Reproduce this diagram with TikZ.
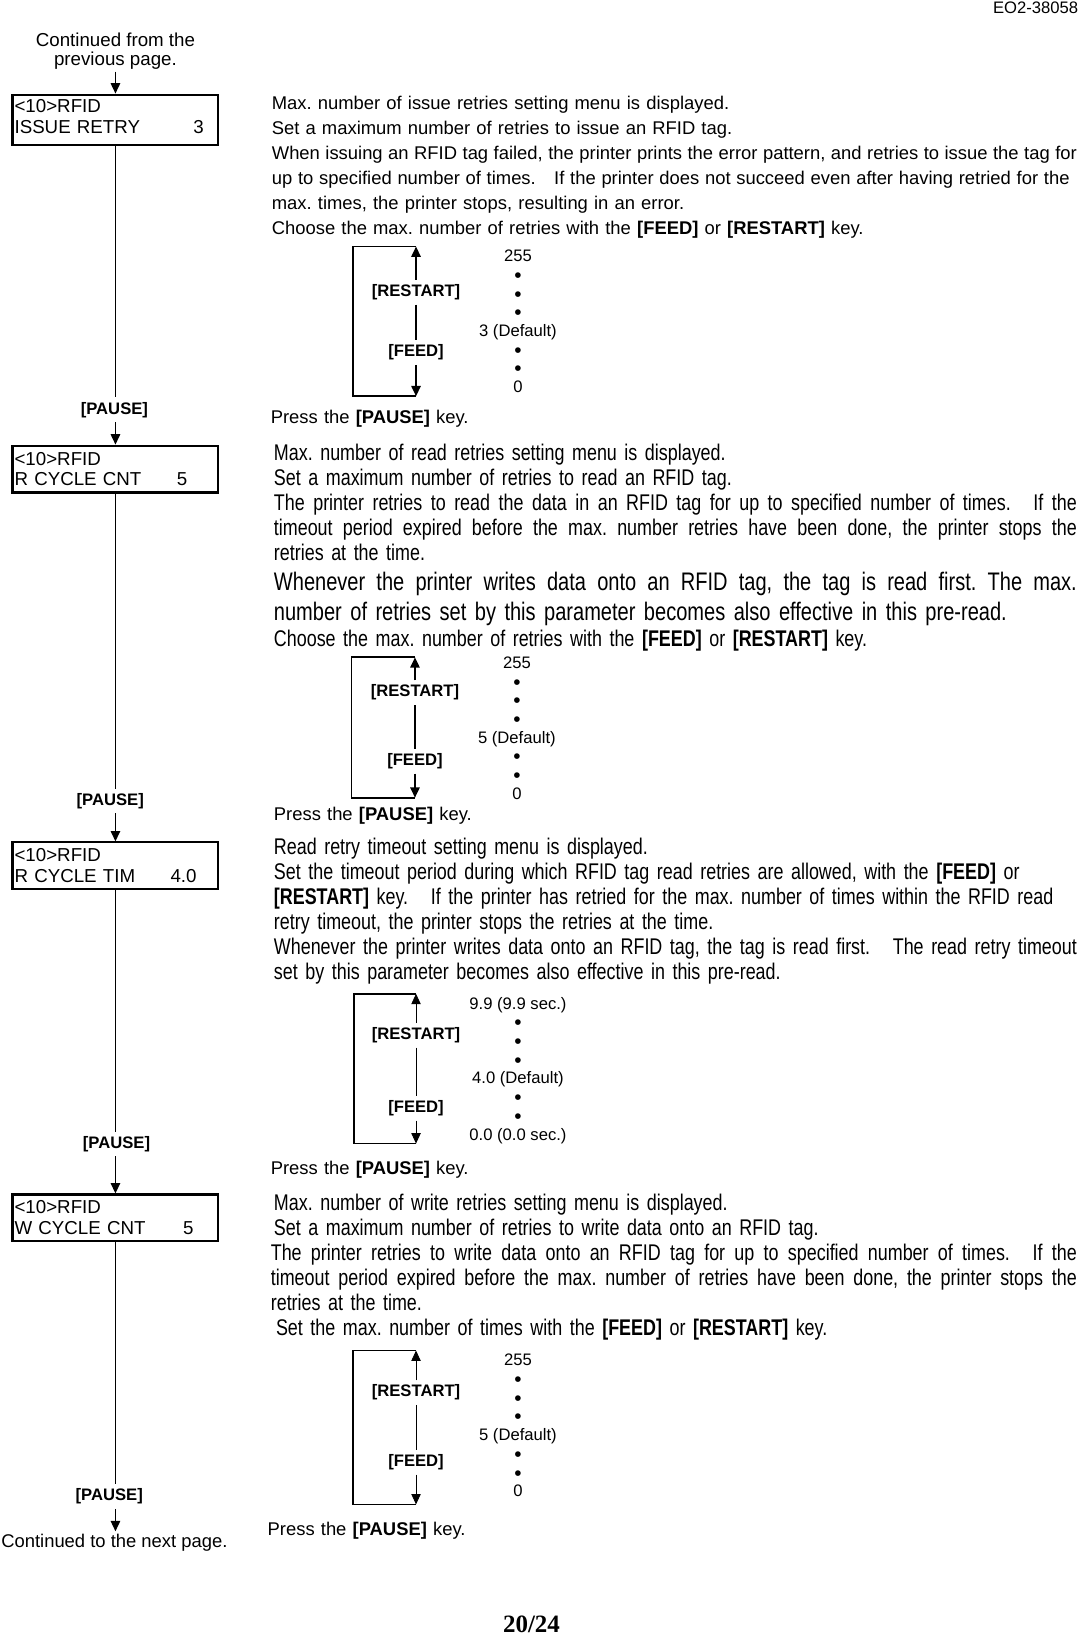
\documentclass[tikz,border=0pt]{standalone}
\usepackage{fontspec}
\setmainfont{Liberation Sans}
\newfontfamily\narrowfont{Liberation Sans}[FakeStretch=0.79]
\newfontfamily\pagefont{Liberation Serif}
\usetikzlibrary{arrows.meta,positioning}
\frenchspacing

% justified line of fixed width
\newcommand{\jl}[2][386pt]{\leavevmode\hbox to #1{\spaceskip=\fontdimen2\font plus 1fil minus 0.15em\relax #2}}
\newcommand{\bodysize}{\fontsize{8.85}{12}\selectfont}
\newcommand{\narrowsize}{\narrowfont\fontsize{10.9}{12}\selectfont}
\newcommand{\bigsize}{\narrowfont\fontsize{12.2}{14.5}\selectfont}
\newcommand{\dotmark}{\raisebox{-1pt}{\fontsize{10}{9}\selectfont\textbullet}}

\begin{document}
\begin{tikzpicture}
[x=0.5pt, y=-0.5pt, >={Triangle[length=5pt,width=4.5pt]},
% STYLES
% The lcd style is used to draw the display boxes
lcd/.style={draw, line width=1pt, text width=97pt, inner xsep=1pt, inner ysep=0pt, minimum height=22.5pt, align=left, font=\fontsize{9}{10}\selectfont},
% The desc style is used for the explanations on the right
desc/.style={anchor=base west, inner sep=0pt, text width=400pt, align=left, font=\bodysize},
narrow/.style={desc, font=\narrowsize},
big/.style={desc, font=\bigsize},
% key names and value lists
keylabel/.style={inner sep=2pt, font=\fontsize{8}{9}\selectfont\bfseries},
values/.style={align=center, inner sep=0pt, font=\fontsize{8}{9}\selectfont},
flow/.style={line width=0.8pt},
keyline/.style={line width=0.9pt},
keybracket/.style={line width=0.9pt}]

\path[use as bounding box] (0,0) rectangle (1040,1573);

% Draw page texts
\node [anchor=east, inner sep=0pt, font=\fontsize{8}{9}\selectfont] (docno) at (1037,7) {EO2-38058};
\node [inner sep=0pt, font=\pagefont\fontsize{12}{12}\selectfont\bfseries] (pageno) at (511,1562) {20/24};

% Draw the displays
\node [align=center, inner sep=1pt, font=\fontsize{9}{9}\selectfont] (fromprev) at (111,49) {Continued from the\\previous page.};
\node [lcd, minimum height=24pt] (issue) at (111,115) {<10>RFID\\\makebox[86pt][l]{ISSUE RETRY}3\rule[-3pt]{0pt}{3pt}};
\node [lcd] (rcnt) at (111,451) {<10>RFID\\\makebox[78pt][l]{R CYCLE CNT}5};
\node [lcd] (rtim) at (111,832.5) {<10>RFID\\\makebox[75pt][l]{R CYCLE TIM}4.0};
\node [lcd] (wcnt) at (111,1171) {<10>RFID\\\makebox[81pt][l]{W CYCLE CNT}5};
\node [inner sep=1pt, font=\bodysize] (tonext) at (110,1483) {Continued to the next page.};

\node [keylabel] (pause1) at (110,394) {[PAUSE]};
\node [keylabel] (pause2) at (106,770) {[PAUSE]};
\node [keylabel] (pause3) at (112,1100) {[PAUSE]};
\node [keylabel] (pause4) at (105,1439) {[PAUSE]};

% Draw the links between displays
\draw[flow,->] (fromprev.south -| issue.north) -- (issue.north);
\draw[flow] (issue.south) -- (issue.south |- pause1.north);
\draw[flow,->] (issue.south |- pause1.south) -- (rcnt.north);
\draw[flow] (rcnt.south) -- (rcnt.south |- pause2.north);
\draw[flow,->] (rcnt.south |- pause2.south) -- (rtim.north);
\draw[flow] (rtim.south) -- (rtim.south |- pause3.north);
\draw[flow,->] (rtim.south |- pause3.south) -- (wcnt.north);
\draw[flow] (wcnt.south) -- (wcnt.south |- pause4.north);
\draw[flow,->] (wcnt.south |- pause4.south) -- (wcnt.south |- tonext.north);

%%%%%%%%%%%%%%%
% ISSUE RETRY
\node [desc] (issuetext) at (261,105.5) {Max. number of issue retries setting menu is displayed.\\
Set a maximum number of retries to issue an RFID tag.\\
\jl[387pt]{When issuing an RFID tag failed, the printer prints the error pattern, and retries to issue the tag for}\\
\jl[383.5pt]{up to specified number of times.\quad If the printer does not succeed even after having retried for the}\\
max. times, the printer stops, resulting in an error.\\
Choose the max. number of retries with the \textbf{[FEED]} or \textbf{[RESTART]} key.};

\coordinate (top1) at (400,237);
\coordinate (bot1) at (400,381);
\node [keylabel] (restart1) at (400,281) {[RESTART]};
\node [keylabel] (feed1) at (400,339) {[FEED]};
\draw[keyline,->] (restart1.north) -- (top1);
\draw[keyline] (restart1.south) -- (feed1.north);
\draw[keyline,->] (feed1.south) -- (bot1);
\draw[keybracket] (top1) -- ++(-61,0) |- (bot1);
\node [values] (range1) at (498,309) {255\\\dotmark\\\dotmark\\\dotmark\\3 (Default)\\\dotmark\\\dotmark\\0};

\node [desc] (press1) at (260,407) {Press the \textbf{[PAUSE]} key.};

% R CYCLE CNT
\node [narrow] (rcnttext) at (263,443) {Max. number of read retries setting menu is displayed.\\
Set a maximum number of retries to read an RFID tag.\\
\jl{The printer retries to read the data in an RFID tag for up to specified number of times.\quad If the}\\
\jl{timeout period expired before the max. number retries have been done, the printer stops the}\\
retries at the time.};
\node [big] (rcntnote) at (263,567.5) {\jl{Whenever the printer writes data onto an RFID tag, the tag is read first. The max.}\\
number of retries set by this parameter becomes also effective in this pre-read.};
\node [narrow] (rcntkey) at (263,622) {Choose the max. number of retries with the \textbf{[FEED]} or \textbf{[RESTART]} key.};

\coordinate (top2) at (399,632);
\coordinate (bot2) at (399,767);
\node [keylabel] (restart2) at (399,666) {[RESTART]};
\node [keylabel] (feed2) at (399,732) {[FEED]};
\draw[keyline,->] (restart2.north) -- (top2);
\draw[keyline] (restart2.south) -- (feed2.north);
\draw[keyline,->] (feed2.south) -- (bot2);
\draw[keybracket] (top2) -- ++(-61,0) |- (bot2);
\node [values] (range2) at (497,700) {255\\\dotmark\\\dotmark\\\dotmark\\5 (Default)\\\dotmark\\\dotmark\\0};

\node [desc] (press2) at (263,789) {Press the \textbf{[PAUSE]} key.};

% R CYCLE TIM
\node [narrow] (rtimtext) at (263,822) {Read retry timeout setting menu is displayed.\\
Set the timeout period during which RFID tag read retries are allowed, with the \textbf{[FEED]} or\\
\textbf{[RESTART]} key.\quad If the printer has retried for the max. number of times within the RFID read\\
retry timeout, the printer stops the retries at the time.\\
\jl{Whenever the printer writes data onto an RFID tag, the tag is read first.\quad The read retry timeout}\\
set by this parameter becomes also effective in this pre-read.};

\coordinate (top3) at (400,955.5);
\coordinate (bot3) at (400,1099.5);
\node [keylabel] (restart3) at (400,995.5) {[RESTART]};
\node [keylabel] (feed3) at (400,1065.5) {[FEED]};
\draw[->] (restart3.north) -- (top3);
\draw (restart3.south) -- (feed3.north);
\draw[->] (feed3.south) -- (bot3);
\draw[keybracket] (top3) -- ++(-60,0) |- (bot3);
\node [values] (range3) at (498,1029) {9.9 (9.9 sec.)\\\dotmark\\\dotmark\\\dotmark\\4.0 (Default)\\\dotmark\\\dotmark\\0.0 (0.0 sec.)};

\node [desc] (press3) at (260,1129) {Press the \textbf{[PAUSE]} key.};

% W CYCLE CNT
\node [narrow] (wcnttext) at (263,1164) {Max. number of write retries setting menu is displayed.\\
Set a maximum number of retries to write data onto an RFID tag.};
\node [narrow] (wcntnote) at (260,1212) {\jl[387.5pt]{The printer retries to write data onto an RFID tag for up to specified number of times.\quad If the}\\
\jl[387.5pt]{timeout period expired before the max. number of retries have been done, the printer stops the}\\
retries at the time.};
\node [narrow] (wcntkey) at (265,1284) {Set the max. number of times with the \textbf{[FEED]} or \textbf{[RESTART]} key.};

\coordinate (top4) at (400,1298.5);
\coordinate (bot4) at (400,1446.5);
\node [keylabel] (restart4) at (400,1339) {[RESTART]};
\node [keylabel] (feed4) at (400,1406) {[FEED]};
\draw[->] (restart4.north) -- (top4);
\draw (restart4.south) -- (feed4.north);
\draw[->] (feed4.south) -- (bot4);
\draw[keybracket] (top4) -- ++(-61,0) |- (bot4);
\node [values] (range4) at (498,1370.5) {255\\\dotmark\\\dotmark\\\dotmark\\5 (Default)\\\dotmark\\\dotmark\\0};

\node [desc] (press4) at (257,1476) {Press the \textbf{[PAUSE]} key.};
%%%%%%%%%%%%%%%

\end{tikzpicture}
\end{document}
